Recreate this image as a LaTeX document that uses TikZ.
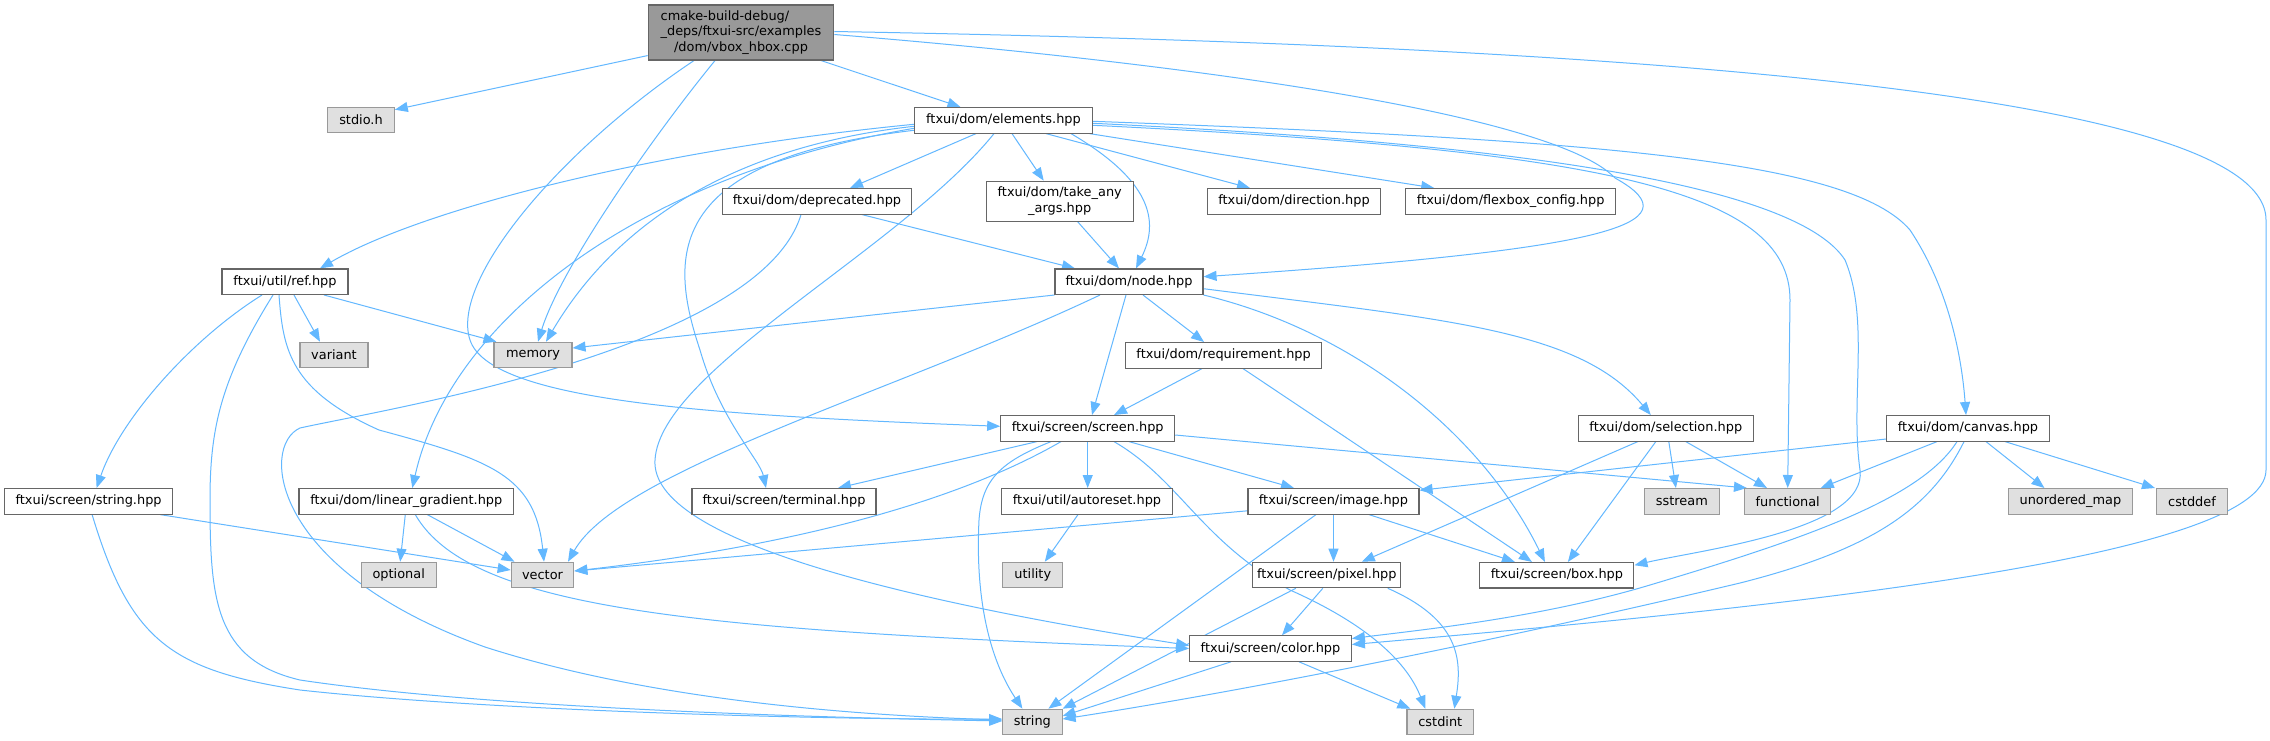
\documentclass[tikz,border=0pt]{standalone}
\usepackage{fontspec}
\setmainfont{DejaVu Sans}
\usetikzlibrary{arrows.meta}
\pgfdeclarelayer{edges}
\pgfsetlayers{edges,main}
\definecolor{edgec}{HTML}{63B8FF}
\definecolor{nodeb}{HTML}{666666}
\definecolor{extb}{HTML}{999999}
\definecolor{extf}{HTML}{E0E0E0}
\definecolor{mainf}{HTML}{999999}
\begin{document}
\begin{tikzpicture}[x=1pt,y=-1pt,
  filebox/.style={draw=nodeb, fill=white, line width=1.1pt, inner sep=0pt, minimum height=25.5pt, font=\fontsize{12.9}{15.5}\selectfont, text=black},
  extbox/.style={filebox, draw=extb, fill=extf},
  dep/.style={draw=edgec, line width=1pt, -{Triangle[length=13pt,width=10pt]}}]
\useasboundingbox (0,0) rectangle (2270,740);
% nodes
\node[filebox, fill=mainf, minimum width=185.5pt, minimum height=55pt] (main) at (741,32.5) {\begin{tabular}{@{}l@{}}cmake-build-debug/\\\_deps/ftxui-src/examples\\\multicolumn{1}{@{}c@{}}{/dom/vbox\_hbox.cpp}\end{tabular}};
\node[extbox, minimum width=66.5pt] (stdio) at (361,120) {stdio.h};
\node[filebox, minimum width=178pt] (elements) at (1003.5,120.3) {ftxui/dom/elements.hpp};
\node[filebox, minimum width=188.5pt] (deprecated) at (817,201.3) {ftxui/dom/deprecated.hpp};
\node[filebox, minimum width=147pt, minimum height=40pt] (take) at (1059.7,201.2) {\begin{tabular}{@{}l@{}}ftxui/dom/take\_any\\\multicolumn{1}{@{}c@{}}{\_args.hpp}\end{tabular}};
\node[filebox, minimum width=173.5pt] (direction) at (1294,201.3) {ftxui/dom/direction.hpp};
\node[filebox, minimum width=210pt] (flexbox) at (1510.7,201.3) {ftxui/dom/flexbox\_config.hpp};
\node[filebox, minimum width=126pt] (ref) at (285,281.7) {ftxui/util/ref.hpp};
\node[filebox, minimum width=148pt] (node) at (1129,281.7) {ftxui/dom/node.hpp};
\node[extbox, minimum width=68pt] (variant) at (334,355) {variant};
\node[extbox, minimum width=78pt] (memory) at (533,355) {memory};
\node[filebox, minimum width=196pt] (requirement) at (1223.6,355.3) {ftxui/dom/requirement.hpp};
\node[filebox, minimum width=174pt] (screen) at (1087.7,428.3) {ftxui/screen/screen.hpp};
\node[filebox, minimum width=175pt] (selection) at (1665.8,428.3) {ftxui/dom/selection.hpp};
\node[filebox, minimum width=162.6pt] (canvas) at (1968,428.3) {ftxui/dom/canvas.hpp};
\node[filebox, minimum width=167.4pt] (stringhpp) at (88.6,501.3) {ftxui/screen/string.hpp};
\node[filebox, minimum width=214.6pt] (lg) at (406.3,501.3) {ftxui/dom/linear\_gradient.hpp};
\node[filebox, minimum width=184pt] (terminal) at (784,501.3) {ftxui/screen/terminal.hpp};
\node[filebox, minimum width=171pt] (autoreset) at (1087,501.3) {ftxui/util/autoreset.hpp};
\node[filebox, minimum width=171pt] (image) at (1333.5,501.3) {ftxui/screen/image.hpp};
\node[extbox, minimum width=74.7pt] (sstream) at (1681.9,501.3) {sstream};
\node[extbox, minimum width=86.4pt] (functional) at (1787.7,501.3) {functional};
\node[extbox, minimum width=124pt] (unordered) at (2070.4,501.3) {unordered\_map};
\node[extbox, minimum width=70.5pt] (cstddef) at (2192,501.3) {cstddef};
\node[extbox, minimum width=75pt] (optional) at (398.7,575) {optional};
\node[extbox, minimum width=62.6pt] (vector) at (542.5,575) {vector};
\node[extbox, minimum width=60pt] (utility) at (1032.8,575) {utility};
\node[filebox, minimum width=148pt] (pixel) at (1326.8,575) {ftxui/screen/pixel.hpp};
\node[filebox, minimum width=154pt] (box) at (1556.9,575.2) {ftxui/screen/box.hpp};
\node[filebox, minimum width=161.7pt] (color) at (1270.5,648.5) {ftxui/screen/color.hpp};
\node[extbox, minimum width=59.3pt] (string) at (1032.4,722) {string};
\node[extbox, minimum width=66.6pt] (cstdint) at (1440.3,722) {cstdint};
\begin{pgfonlayer}{edges}
\fill[white] (0,0) rectangle (2270,740);
% main
\draw[dep] ([yshift=5pt]main.south west) -- ([yshift=-3pt]stdio.north east);
\draw[dep] ([xshift=80pt]main.south) -- ([xshift=-43pt]elements.north);
\draw[dep] ([xshift=-26pt]main.south) .. controls (650,140) and (560,270) .. ([xshift=5pt]memory.north);
\draw[dep] ([xshift=-47pt]main.south) .. controls (560,150) and (450,280) .. (470,340) .. controls (490,400) and (700,415) .. ([yshift=2pt]screen.west);
\draw[dep] ([yshift=-2pt]main.east) .. controls (1150,60) and (1550,110) .. (1615,178) .. controls (1700,225) and (1600,250) .. ([yshift=5pt]node.east);
\draw[dep] ([yshift=1pt]main.east) .. controls (1600,45) and (2266,90) .. (2266,220) -- (2266,470) .. controls (2266,560) and (1750,610) .. ([yshift=4pt]color.east);
% elements
\draw[dep] ([xshift=-27.5pt]elements.south) -- ([xshift=33pt]deprecated.north);
\draw[dep] ([xshift=8.5pt]elements.south) -- ([xshift=-16pt]take.north);
\draw[dep] ([xshift=42.5pt]elements.south) -- ([xshift=-44pt]direction.north);
\draw[dep] ([xshift=86pt]elements.south) -- ([xshift=-76.5pt]flexbox.north);
\draw[dep] ([xshift=67.5pt]elements.south) .. controls (1150,180) and (1160,220) .. ([xshift=7pt]node.north);
\draw[dep] ([xshift=-9.5pt]elements.south) .. controls (900,250) and (660,370) .. (655,460) .. controls (650,540) and (900,600) .. ([yshift=3pt]color.west);
\draw[dep] ([yshift=-4pt]elements.west) .. controls (650,150) and (420,210) .. ([xshift=35pt]ref.north);
\draw[dep] ([yshift=-6pt]elements.west) .. controls (700,150) and (600,250) .. ([xshift=13pt]memory.north);
\draw[dep] ([yshift=-8pt]elements.west) .. controls (640,175) and (450,320) .. ([xshift=6pt]lg.north);
\draw[dep] ([yshift=-10pt]elements.west) .. controls (660,160) and (670,260) .. (700,350) .. controls (720,420) and (760,460) .. ([xshift=-18pt]terminal.north);
\draw[dep] ([yshift=-1pt]elements.east) .. controls (1600,140) and (1850,160) .. (1910,230) .. controls (1950,290) and (1962,360) .. ([xshift=-2pt]canvas.north);
\draw[dep] ([yshift=-3pt]elements.east) .. controls (1550,145) and (1800,190) .. (1845,260) .. controls (1870,320) and (1850,400) .. (1860,470) .. controls (1868,530) and (1700,550) .. ([yshift=10pt]box.east);
\draw[dep] ([yshift=-5pt]elements.east) .. controls (1600,150) and (1790,190) .. (1790,300) -- (functional.north);
% take, deprecated
\draw[dep] ([xshift=18pt]take.south) -- ([xshift=-10pt]node.north);
\draw[dep] ([xshift=45pt]deprecated.south) -- ([xshift=-54pt]node.north);
\draw[dep] ([xshift=-16pt]deprecated.south) .. controls (760,350) and (380,410) .. (300,428) .. controls (260,446) and (270,570) .. (485,647) .. controls (650,700) and (850,715) .. ([yshift=2pt]string.west);
% ref
\draw[dep] ([xshift=-23pt]ref.south) .. controls (190,340) and (120,420) .. ([xshift=8pt]stringhpp.north);
\draw[dep] ([xshift=-12pt]ref.south) .. controls (220,380) and (210,430) .. (210,500) .. controls (210,600) and (215,660) .. (300,680) .. controls (500,710) and (850,718) .. ([yshift=1pt]string.west);
\draw[dep] ([xshift=-6pt]ref.south) .. controls (283,350) and (290,390) .. (379,430) .. controls (490,460) and (535,475) .. ([xshift=1.5pt]vector.north);
\draw[dep] ([xshift=9pt]ref.south) -- ([xshift=-14pt]variant.north);
\draw[dep] ([xshift=39pt]ref.south) -- ([xshift=3pt]memory.north west);
% string.hpp
\draw[dep] ([xshift=71.5pt]stringhpp.south) -- ([yshift=5pt]vector.west);
\draw[dep] ([xshift=3.5pt]stringhpp.south) .. controls (130,640) and (170,670) .. (300,690) .. controls (500,712) and (850,720) .. ([yshift=3pt]string.west);
% linear gradient
\draw[dep] ([xshift=-1pt]lg.south) -- ([xshift=1.5pt]optional.north);
\draw[dep] ([xshift=21pt]lg.south) -- ([xshift=-28pt]vector.north);
\draw[dep] ([xshift=9pt]lg.south) .. controls (470,610) and (700,630) .. (color.west);
% node
\draw[dep] ([xshift=14pt]node.south) -- ([xshift=-19.6pt]requirement.north);
\draw[dep] ([xshift=-3pt]node.south) -- ([xshift=4.3pt]screen.north);
\draw[dep] (node.south west) -- ([yshift=7pt]memory.east);
\draw[dep] ([xshift=-29pt]node.south) .. controls (900,390) and (620,470) .. ([xshift=25.5pt]vector.north);
\draw[dep] (node.south east) .. controls (1350,330) and (1480,430) .. ([xshift=-12pt]box.north);
\draw[dep] ([yshift=-7pt]node.east) .. controls (1450,320) and (1580,330) .. ([xshift=-15pt]selection.north);
% requirement
\draw[dep] ([xshift=-21.6pt]requirement.south) -- ([xshift=26.3pt]screen.north);
\draw[dep] ([xshift=19.4pt]requirement.south) -- ([xshift=-25pt]box.north);
% screen
\draw[dep] ([xshift=-50.7pt]screen.south) -- ([xshift=54pt]terminal.north);
\draw[dep] ([xshift=-36.7pt]screen.south) .. controls (1000,462) and (982,480) .. (979,520) .. controls (975,600) and (990,660) .. ([xshift=-10pt]string.north);
\draw[dep] ([xshift=-26.7pt]screen.south) .. controls (960,500) and (800,545) .. ([yshift=4pt]vector.east);
\draw[dep] (screen.south) -- (screen.south |- autoreset.north);
\draw[dep] ([xshift=26.3pt]screen.south) .. controls (1180,480) and (1200,540) .. (1290,590) .. controls (1380,630) and (1410,670) .. ([xshift=-15pt]cstdint.north);
\draw[dep] ([xshift=41.3pt]screen.south) -- ([xshift=-39.5pt]image.north);
\draw[dep] ([yshift=-6.7pt]screen.east) -- ([xshift=3pt]functional.north west);
% image
\draw[dep] ([yshift=-9.5pt]image.west) -- ([yshift=4pt]vector.east);
\draw[dep] ([xshift=-17.5pt]image.south) -- ([xshift=16pt]string.north);
\draw[dep] (image.south) -- (image.south |- pixel.north);
\draw[dep] ([xshift=35.5pt]image.south) -- ([xshift=-42pt]box.north);
% pixel
\draw[dep] ([xshift=-31pt]pixel.south) -- (string.north east);
\draw[dep] ([xshift=-4pt]pixel.south) -- ([xshift=11.5pt]color.north);
\draw[dep] ([xshift=61pt]pixel.south) .. controls (1460,620) and (1462,660) .. ([xshift=14pt]cstdint.north);
% color
\draw[dep] ([xshift=-39.5pt]color.south) -- ([yshift=6pt]string.east);
\draw[dep] ([xshift=28.5pt]color.south) -- ([xshift=-30pt]cstdint.north);
% autoreset
\draw[dep] ([xshift=-9pt]autoreset.south) -- ([xshift=12pt]utility.north);
% selection
\draw[dep] ([xshift=3pt]selection.south) -- ([xshift=-6pt]sstream.north);
\draw[dep] ([xshift=20pt]selection.south) -- ([xshift=-20.7pt]functional.north);
\draw[dep] ([xshift=-10pt]selection.south) -- ([xshift=11pt]box.north);
\draw[dep] ([xshift=-28pt]selection.south) -- ([xshift=35pt]pixel.north);
% canvas
\draw[dep] ([yshift=-10.7pt]canvas.west) -- ([yshift=11pt]image.east);
\draw[dep] ([xshift=-31pt]canvas.south) -- ([xshift=33pt]functional.north);
\draw[dep] ([xshift=18pt]canvas.south) -- ([xshift=-26pt]unordered.north);
\draw[dep] ([xshift=37pt]canvas.south) -- ([xshift=-37pt]cstddef.north);
\draw[dep] ([xshift=-11pt]canvas.south) .. controls (1920,500) and (1800,540) .. (1650,585) .. controls (1540,618) and (1420,630) .. ([yshift=10pt]color.east);
\draw[dep] ([xshift=-4pt]canvas.south) .. controls (1930,510) and (1870,550) .. (1740,583) .. controls (1500,640) and (1250,690) .. ([yshift=3pt]string.east);
\end{pgfonlayer}
\end{tikzpicture}
\end{document}
